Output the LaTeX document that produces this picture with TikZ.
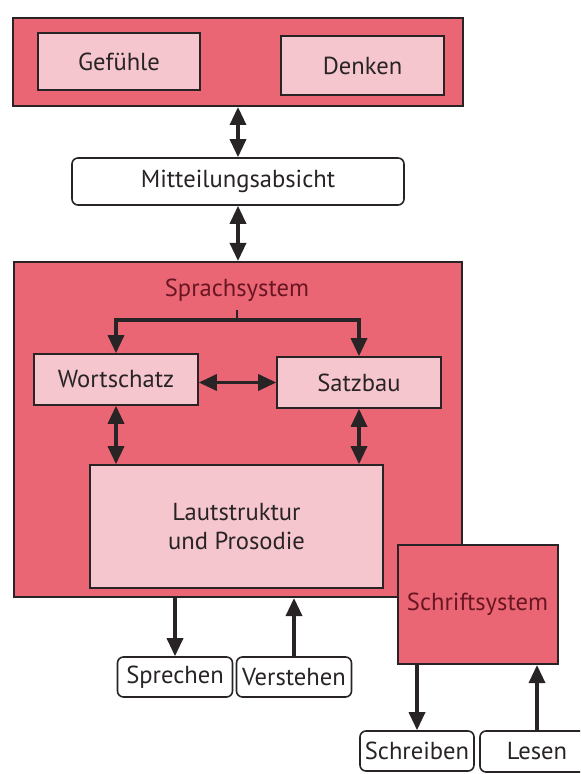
\documentclass[tikz,border=0pt]{standalone}
\usepackage{fontspec}
\setmainfont{PT Sans}
\usetikzlibrary{arrows.meta}
\definecolor{boxred}{RGB}{234,102,116}
\definecolor{boxpink}{RGB}{246,198,206}
\definecolor{textred}{RGB}{105,22,34}
\definecolor{ink}{RGB}{40,36,38}
\tikzset{head/.tip = {Triangle[length=9pt, width=8pt]}}
\tikzset{tip/.style = {-head}}
\tikzset{tips/.style = {head-head}}
\tikzset{outer/.style = {draw=ink, fill=boxred, line width=1pt, inner sep=0pt}}
\tikzset{inner/.style = {draw=ink, fill=boxpink, line width=0.8pt, inner sep=0pt}}
\tikzset{pill/.style = {draw=ink, fill=white, rounded corners=3pt, line width=0.8pt, inner sep=0pt}}

\begin{document}
\begin{tikzpicture}[x=0.5pt, y=-0.5pt, line width=1.7pt, color=ink,
                    font=\fontsize{12.3}{14.5}\selectfont]
    \useasboundingbox (0, 0) rectangle (580, 774);
    \clip (0, 0) rectangle (580, 774);
    % thinking
    \node [outer, minimum width=225pt, minimum height=44pt] (mind) at (238, 62) {};
    \node [inner, minimum width=81pt, minimum height=28.5pt] (feel) at (119, 61.5) {Gefühle};
    \node [inner, minimum width=81.5pt, minimum height=29.5pt] (think) at (362.5, 65.5) {Denken};
    \node [pill, minimum width=166pt, minimum height=23.5pt] (intent) at (238, 181.5) {Mitteilungsabsicht};
    \draw [tips] (mind) -- (intent);
    % language system
    \node [outer, minimum width=224pt, minimum height=167.5pt] (lang) at (238, 429.5) {};
    \draw [tips] (intent) -- (lang);
    \node [text=textred] (langlbl) at (237, 290) {Sprachsystem};
    \node [inner, minimum width=82pt, minimum height=25.5pt] (words) at (116, 379.5) {Wortschatz};
    \node [inner, minimum width=82pt, minimum height=25.5pt] (syntax) at (359, 382.5) {Satzbau};
    \node [inner, minimum width=146.5pt, minimum height=61.5pt, align=center] (sound) at (236.5, 526.5)
        {Lautstruktur\\und Prosodie};
    \coordinate (fork) at (237, 320);
    \draw [line width=0.8pt] (langlbl.south) -- (fork);
    \draw [tip] (fork) -| (words.north);
    \draw [tip] (fork) -| (syntax.north);
    \draw [tips] (syntax.west -| words.east) -- (syntax.west);
    \draw [tips] (words.south) -- (words.south |- sound.north);
    \draw [tips] (syntax.south) -- (syntax.south |- sound.north);
    % writing system
    \node [outer, text=textred, minimum width=80pt, minimum height=59.5pt] (script) at (477.5, 604.5) {Schriftsystem};
    % speaking and writing
    \node [pill, minimum width=57.5pt, minimum height=20pt] (speak) at (175, 677) {Sprechen};
    \node [pill, minimum width=57.5pt, minimum height=20pt] (hear) at (294, 677) {Verstehen};
    \draw [tip] (speak |- lang.south) -- (speak.north);
    \draw [tip] (hear.north) -- (hear |- lang.south);
    \node [pill, minimum width=57pt, minimum height=20pt] (write) at (417, 751) {Schreiben};
    \node [pill, minimum width=57pt, minimum height=20.5pt] (read) at (537, 751.5) {Lesen};
    \draw [tip] (write |- script.south) -- (write.north);
    \draw [tip] (read.north) -- (read |- script.south);
  \end{tikzpicture}
\end{document}
